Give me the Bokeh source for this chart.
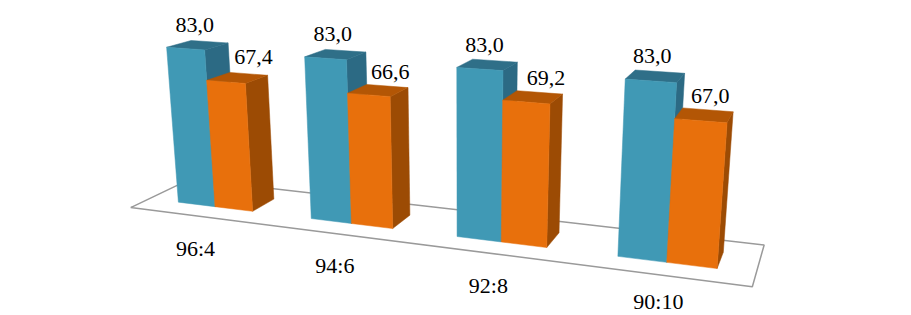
from bokeh.plotting import figure
from bokeh.models import Range1d
from bokeh.core.properties import value
from bokeh.embed import file_html
from bokeh.resources import INLINE
import numpy as np

categories = ["96:4", "94:6", "92:8", "90:10"]
series_a = [83.0, 83.0, 83.0, 83.0]
series_b = [67.4, 66.6, 69.2, 67.0]
labels_a = ["83,0", "83,0", "83,0", "83,0"]
labels_b = ["67,4", "66,6", "69,2", "67,0"]

# perspective camera of the 3-D chart: (category, value / vmax, depth) -> window pixels
CAMERA = np.array([[121.00757, -18.62325, 76.02581, 132.08386],
                   [6.8051, -159.28714, -12.93549, 207.31591],
                   [-0.04513, -0.04018, 0.08688, 1.0]])
VMAX = 83.0
BAR_W, Z0, Z1 = 0.285, 0.298, 0.70
W, H = 911, 315
OFFSET_B = [(16, -21), (12, -18), (13, -19), (6, -19)]


def proj(x, v, z):
    q = CAMERA @ np.array([x, v / VMAX, z, 1.0])
    return q[0] / q[2], q[1] / q[2]


def poly(pts):
    xy = [proj(*t) for t in pts]
    return [a for a, _ in xy], [b for _, b in xy]


p = figure(width=W, height=H, output_backend="svg", toolbar_location=None,
           x_range=Range1d(0, W), y_range=Range1d(H, 0),
           min_border=0, outline_line_color=None)
p.axis.visible = False
p.grid.visible = False

fx, fy = poly([(-0.015, 0, 0), (4.0, 0, 0), (4.0, 0, 1), (-0.015, 0, 1), (-0.015, 0, 0)])
p.line(fx, fy, line_color="#9a9a9a", line_width=1.5)

COL = [("#4099b5", "#2f6f88", "#2c6a84"), ("#e8700c", "#b35605", "#9c4b04")]


def bar(x0, x1, v, cols):
    front, top, side = cols
    for pts, c in (([(x1, 0, Z0), (x1, 0, Z1), (x1, v, Z1), (x1, v, Z0)], side),
                   ([(x0, v, Z0), (x1, v, Z0), (x1, v, Z1), (x0, v, Z1)], top),
                   ([(x0, 0, Z0), (x1, 0, Z0), (x1, v, Z0), (x0, v, Z0)], front)):
        xs, ys = poly(pts)
        p.patch(xs, ys, fill_color=c, line_color=c, line_width=0.5)


tx, ty, tt = [], [], []
for i in range(len(categories)):
    c = i + 0.5
    bar(c - BAR_W, c, series_a[i], COL[0])
    bar(c, c + BAR_W, series_b[i], COL[1])
    a = proj(c - BAR_W / 2, series_a[i], (Z0 + Z1) / 2)
    b = proj(c + BAR_W / 2, series_b[i], (Z0 + Z1) / 2)
    tx += [a[0] - 3, b[0] + OFFSET_B[i][0]]
    ty += [a[1] - 20, b[1] + OFFSET_B[i][1]]
    tt += [labels_a[i], labels_b[i]]
    q = proj(c, 0, 0)
    tx.append(q[0] - 2)
    ty.append(min(q[1] + 32, H - 14))
    tt.append(categories[i])

p.text(tx, ty, text=tt, text_font=value("Liberation Serif"), text_font_size="22px",
       text_color="#000000", text_align="center", text_baseline="middle")

open("out.html", "w").write(file_html(p, INLINE))
